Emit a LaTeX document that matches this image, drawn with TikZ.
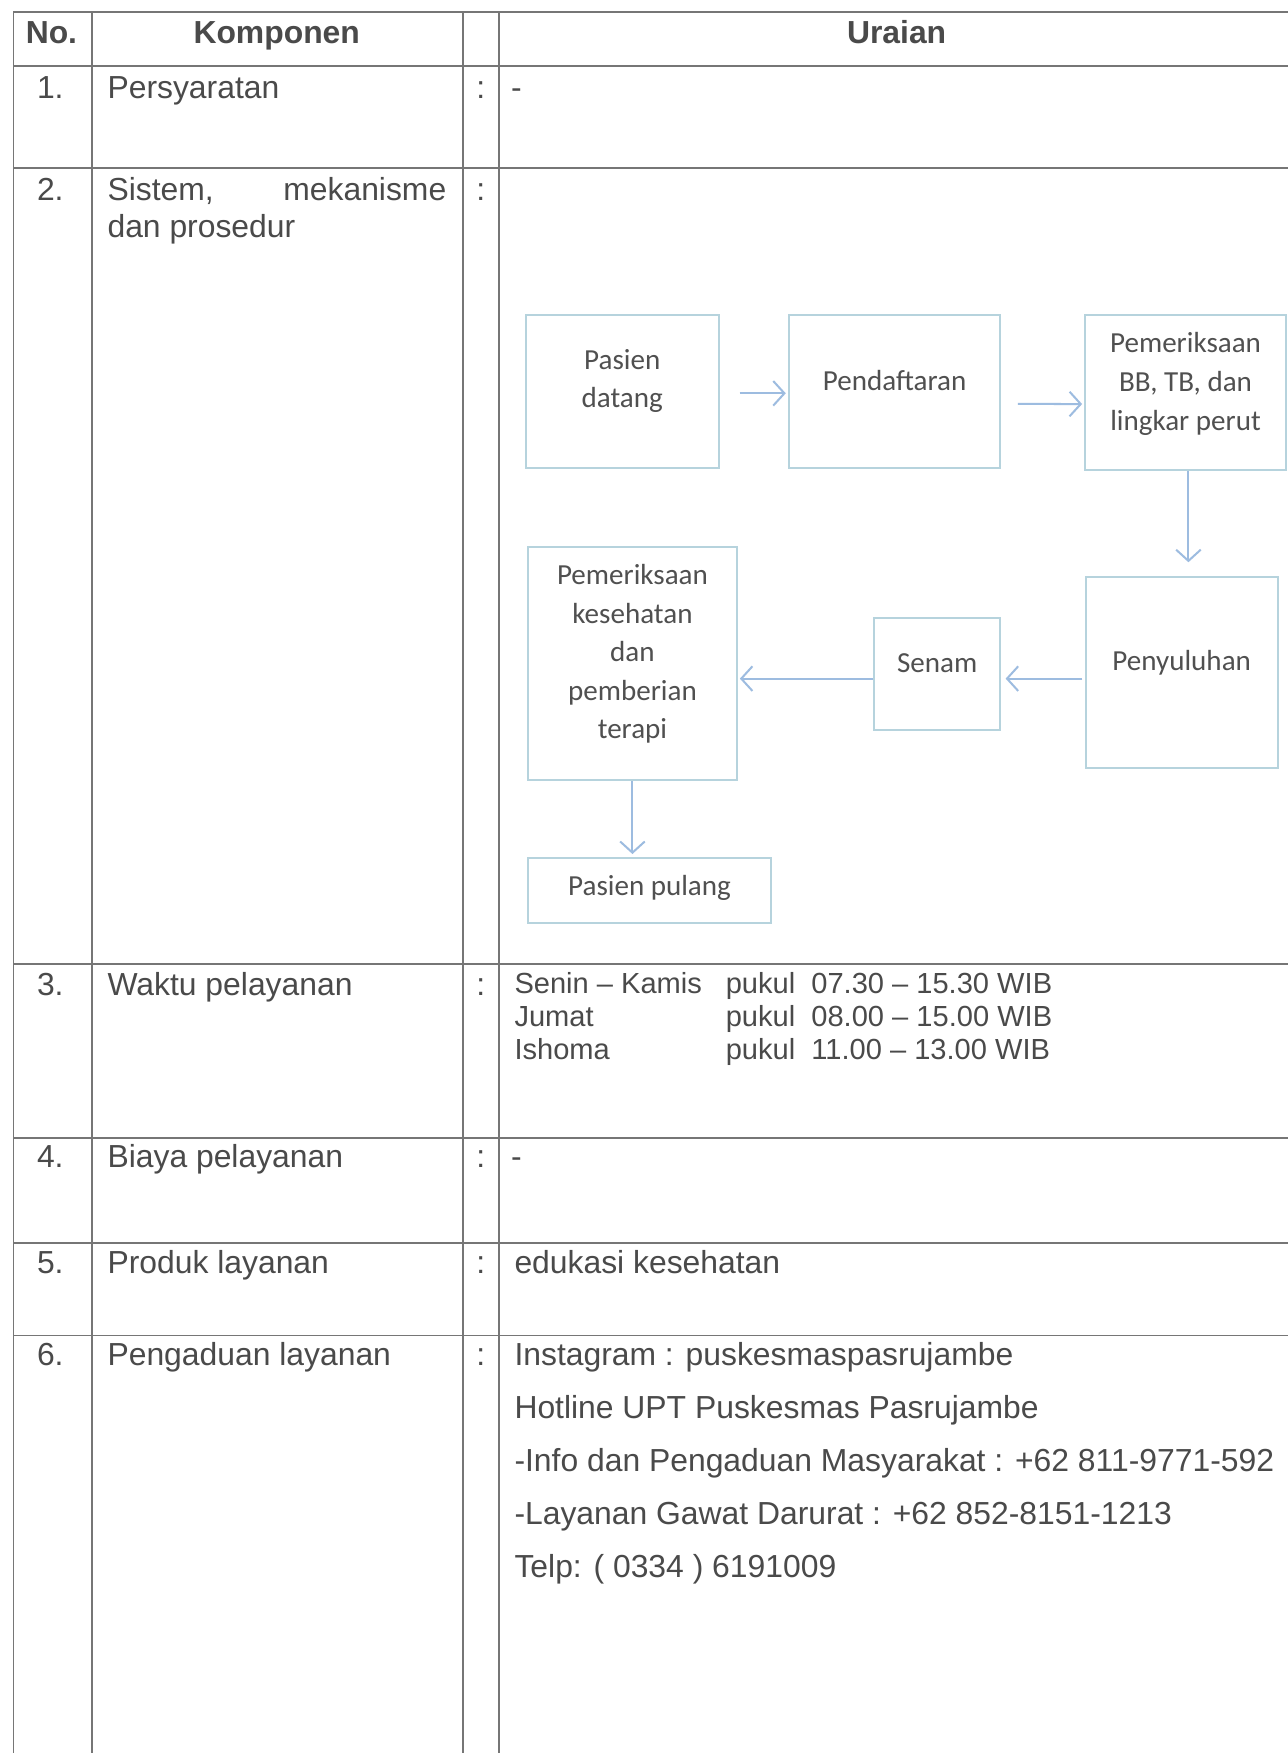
\documentclass[tikz,border=0pt]{standalone}
\usepackage{fontspec}
\setmainfont{Liberation Sans}
\newfontfamily\flowfont{Carlito}
\usetikzlibrary{arrows.meta}
\definecolor{rulec}{HTML}{767676}
\definecolor{txtc}{HTML}{4A4A4A}
\definecolor{boxc}{HTML}{B6D3DD}
\definecolor{arrc}{HTML}{9DBCE0}
\definecolor{ftxt}{HTML}{505050}
\begin{document}
\begin{tikzpicture}[x=1pt,y=-1pt,
  rule/.style={draw=rulec, line width=1.6pt},
  cell/.style={anchor=base west, inner sep=0pt, text=txtc, font=\fontsize{28.5}{33}\selectfont},
  head/.style={anchor=base, inner sep=0pt, text=txtc, font=\fontsize{28.5}{33}\selectfont\bfseries},
  num/.style={anchor=base, inner sep=0pt, text=txtc, font=\fontsize{28.5}{33}\selectfont},
  fbox/.style={draw=boxc, line width=1.8pt, inner sep=0pt, fill=white},
  ftext/.style={inner sep=0pt, text=ftxt, font=\flowfont\fontsize{26}{34.5}\selectfont, align=center},
  flow/.style={draw=arrc, line width=1.8pt, -{Straight Barb[length=10pt,width=22pt,line width=1.8pt]}}
]
\useasboundingbox (0,0) rectangle (1152,1568);
\fill[white] (0,0) rectangle (1152,1568);
% table rules
\foreach \yy in {10.5,58.7,150.6,862.3,1017.6,1112,1194.5} \draw[rule] (12,\yy) -- (1152,\yy);
\foreach \xx in {12,82,414,446} \draw[rule] (\xx,10.5) -- (\xx,1568);
% header
\node[head] (hno) at (46,39) {No.};
\node[head] (hkomp) at (247.5,39) {Komponen};
\node[head] (hur) at (802,39) {Uraian};
% numbers
\node[num] (n1) at (45,88) {1.};
\node[num] (n2) at (45,179) {2.};
\node[num] (n3) at (45,890) {3.};
\node[num] (n4) at (45,1044) {4.};
\node[num] (n5) at (45,1139.5) {5.};
\node[num] (n6) at (45,1221.5) {6.};
% komponen
\node[cell] (k1) at (96,88) {Persyaratan};
\node[cell] (k2) at (96,179) {\parbox[t]{303pt}{Sistem,\hfill mekanisme\\dan prosedur}};
\node[cell] (k3) at (96,890) {Waktu pelayanan};
\node[cell] (k4) at (96,1044) {Biaya pelayanan};
\node[cell] (k5) at (96,1139.5) {Produk layanan};
\node[cell] (k6) at (96,1221.5) {Pengaduan layanan};
% colons
\node[num] (c1) at (430,88) {:};
\node[num] (c2) at (430,179) {:};
\node[num] (c3) at (430,890) {:};
\node[num] (c4) at (430,1044) {:};
\node[num] (c5) at (430,1139.5) {:};
\node[num] (c6) at (430,1221.5) {:};
% uraian
\node[cell] (u1) at (457,88) {-};
\node[cell, font=\fontsize{26}{29.8}\selectfont] (u3) at (460,888.5) {\begin{tabular}[t]{@{}p{189pt}@{}l@{}}Senin – Kamis & pukul\ \ 07.30 – 15.30 WIB\\ Jumat & pukul\ \ 08.00 – 15.00 WIB\\ Ishoma & pukul\ \ 11.00 – 13.00 WIB\end{tabular}};
\node[cell] (u4) at (457,1044) {-};
\node[cell] (u5) at (460,1139.5) {edukasi kesehatan};
\node[cell, font=\fontsize{28.5}{47.3}\selectfont] (u6) at (460,1221.5) {\begin{tabular}[t]{@{}l@{}}Instagram : puskesmaspasrujambe\\ Hotline UPT Puskesmas Pasrujambe\\ -Info dan Pengaduan Masyarakat : +62 811-9771-592\\ -Layanan Gawat Darurat : +62 852-8151-1213\\ Telp: ( 0334 ) 6191009\end{tabular}};
% flowchart boxes
\node[fbox, minimum width=172.2pt, minimum height=137.2pt] (b1) at (556.6,350.3) {};
\node[fbox, minimum width=188.9pt, minimum height=137.2pt] (b2) at (800.2,350.3) {};
\node[fbox, minimum width=179.2pt, minimum height=138.3pt] (b3) at (1060.4,350.9) {};
\node[fbox, minimum width=172pt, minimum height=171.4pt] (b4) at (1057,601.5) {};
\node[fbox, minimum width=112.6pt, minimum height=100pt] (b5) at (838.3,603) {};
\node[fbox, minimum width=187.4pt, minimum height=208.7pt] (b6) at (565.7,593.4) {};
\node[fbox, minimum width=218pt, minimum height=58.2pt] (b7) at (581,796.9) {};
% flowchart texts
\node[ftext] (t1) at ([yshift=9.5pt]b1.center) {Pasien\\datang};
\node[ftext] (t2) at ([yshift=10pt]b2.center) {Pendaftaran};
\node[ftext] (t3) at ([yshift=7.5pt]b3.center) {Pemeriksaan\\BB, TB, dan\\lingkar perut};
\node[ftext] (t4) at ([yshift=8.5pt]b4.center) {Penyuluhan};
\node[ftext] (t5) at ([yshift=10pt]b5.center) {Senam};
\node[ftext] (t6) at ([yshift=8.5pt]b6.center) {Pemeriksaan\\kesehatan\\dan\\pemberian\\terapi};
\node[ftext] (t7) at ([yshift=2.5pt]b7.center) {Pasien pulang};
% connectors
\draw[flow] ([xshift=18pt,yshift=-1.5pt]b1.east) -- ([xshift=-2pt,yshift=-1.5pt]b2.west);
\draw[flow] ([xshift=15pt,yshift=-11pt]b2.east) -- ([xshift=-2pt,yshift=-10.5pt]b3.west);
\draw[flow] ([xshift=2.6pt]b3.south) -- ([xshift=6pt,yshift=12pt]b4.north);
\draw[flow] ([xshift=-2pt,yshift=-5.5pt]b4.west) -- ([xshift=4pt,yshift=-4pt]b5.east);
\draw[flow] ([yshift=-4pt]b5.west) -- ([xshift=1.5pt,yshift=-13.6pt]b6.east);
\draw[flow] (b6.south) -- ([yshift=3pt]b6.south |- b7.north);
\end{tikzpicture}
\end{document}
